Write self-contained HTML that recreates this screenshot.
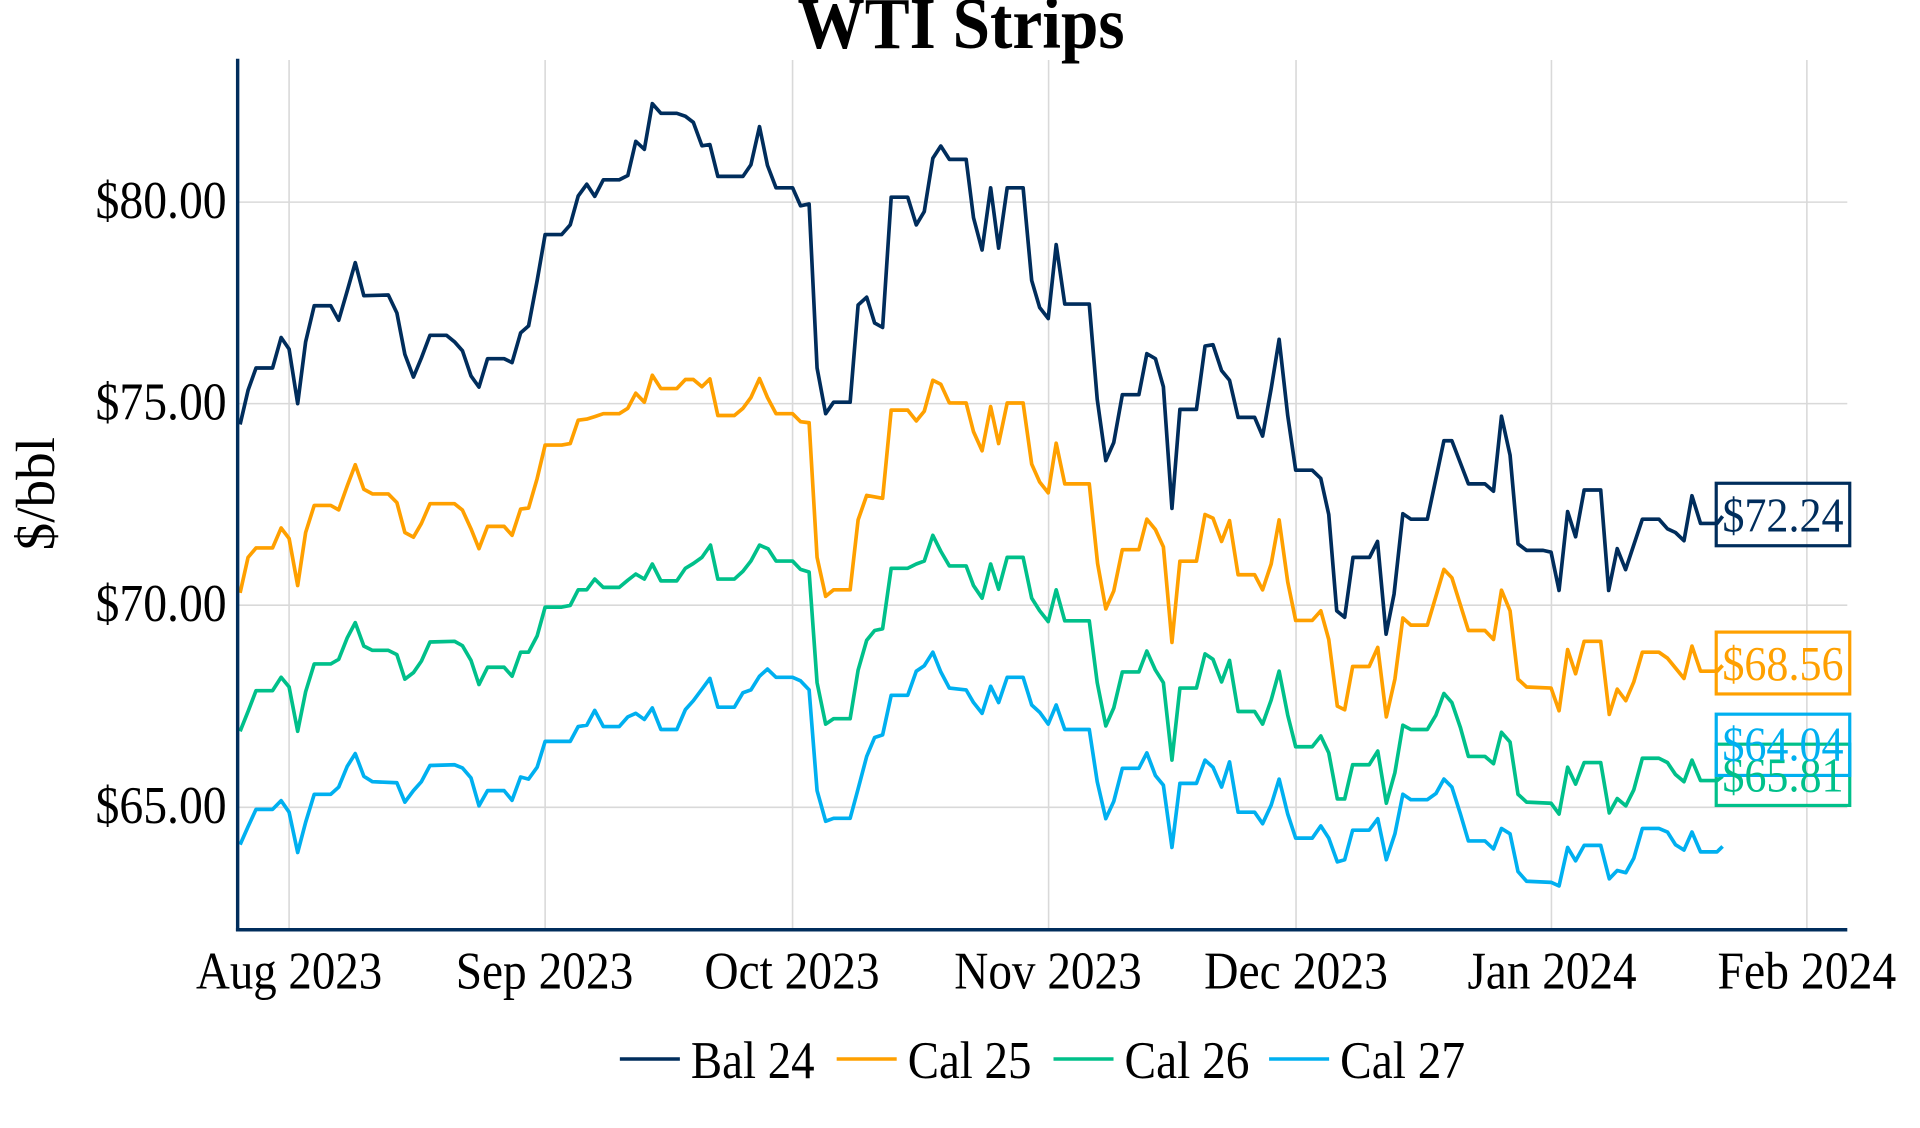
<!DOCTYPE html>
<html><head><meta charset="utf-8"><style>
html,body{margin:0;padding:0;background:#fff;}
svg{display:block;}
text{font-family:"Liberation Serif",serif;}
</style></head><body>
<svg width="1920" height="1128" viewBox="0 0 1567.35 920.82" xmlns="http://www.w3.org/2000/svg">
<rect width="1567.35" height="920.82" fill="#fff"/>
<g stroke="#d9d9d9" stroke-width="1.3">
<line x1="194" y1="165" x2="1508" y2="165"/>
<line x1="194" y1="329.5" x2="1508" y2="329.5"/>
<line x1="194" y1="494" x2="1508" y2="494"/>
<line x1="194" y1="659" x2="1508" y2="659"/>
<line x1="236" y1="49" x2="236" y2="759"/>
<line x1="445" y1="49" x2="445" y2="759"/>
<line x1="647" y1="49" x2="647" y2="759"/>
<line x1="856" y1="49" x2="856" y2="759"/>
<line x1="1058" y1="49" x2="1058" y2="759"/>
<line x1="1266.5" y1="49" x2="1266.5" y2="759"/>
<line x1="1475" y1="49" x2="1475" y2="759"/>
</g>
<g fill="none" stroke-width="3" stroke-linejoin="round">
<polyline stroke="#00b0f0" points="196,689.5 202.5,674.8 209,660.7 222.5,660.7 229.5,653.6 236,663 243,695.9 249.5,671.3 256.5,648.4 270,648.4 276.5,642.5 283.5,625.5 290,615.2 297,633.7 304,638.1 324,639 330.5,654.8 337.5,645.4 344,638.1 351,624.9 371,624.3 377.5,626.9 384.5,635.1 391,657.8 398,645.4 411.5,645.4 418,653.3 425,634.3 431.5,636 438.5,626.3 445,605.2 465.5,605.2 472,593.1 479,592 485.5,579.9 492.5,593.1 505.5,593.1 512.5,585.2 519,582.3 526,587.3 532.5,577.9 539.5,595.5 552.5,595.5 559.5,579.3 566,572 573,562.6 579.5,553.8 586,577.3 599.5,577.3 606.5,565.5 613,563.2 620,552 626.5,546.2 633.5,552.9 647,552.9 653.5,555.8 660.5,563.2 667,645.4 674,670.4 680.5,668 694,668 700.5,644 707.5,617.5 714,602 720.5,599.9 727.5,567.6 741,567.6 748,547.9 754.5,543.5 761.5,532.4 768,548.5 775,561.7 788.7,563.2 794.7,573.5 801.7,582.3 808.7,560.2 815.2,573.5 822.2,552.9 835.2,552.9 842.2,575.5 848.7,581.4 855.7,591.1 862.2,575.5 869.2,595.5 889.2,595.5 895.7,638.1 902.7,668.3 909.2,654.2 916.2,627.2 929.7,627.2 936.2,614.6 943.2,633.1 949.7,641 956.7,691.8 963.2,639.5 976.7,639.5 983.7,620.5 990.2,626.3 997.2,642.5 1003.7,621.9 1010.7,663 1024.2,663 1030.7,672.4 1037.7,657.2 1044.2,636 1051.2,664.5 1057.7,684.2 1071.2,684.2 1078.2,674.2 1084.7,684.2 1091.7,703.6 1097.7,701.8 1104.2,677.7 1117.7,677.7 1124.7,668.3 1131.7,701.8 1138.7,680.7 1145.2,648.4 1151.7,652.8 1165.2,652.8 1172.2,647.8 1178.7,636 1185.2,642.5 1192.2,664.5 1198.7,686.5 1212.2,686.5 1219.2,693 1225.7,676.3 1232.7,680.7 1239.2,711.5 1246.2,719.4 1266.2,720.3 1272.7,723.2 1279.7,691.8 1286.2,702.7 1293.2,690.1 1306.7,690.1 1313.7,717.4 1320.2,710.6 1327.2,712.4 1333.7,700.6 1340.7,676.3 1354.2,676.3 1361.2,679.2 1367.7,689.5 1374.7,693.9 1381.2,679.2 1388.2,695.4 1401.7,695.4 1406.2,691"/>
<polyline stroke="#00c08a" points="196,597 202.5,580.8 209,563.8 222.5,563.8 229.5,552.9 236,560.8 243,597 249.5,564.7 256.5,542 270,542 276.5,538.2 283.5,520.6 290,508.3 297,527.4 304,530.9 317,530.9 324,534.4 330.5,554.4 337.5,549.1 344,539.7 351,524.1 371,523.5 377.5,527.1 384.5,539.1 391,558.8 398,544.7 411.5,544.7 418,552 425,532.4 431.5,532.4 438.5,519.1 445,495.6 458.5,495.6 465.5,494.2 472,481.5 479,481.5 485.5,472.7 492.5,479.5 505.5,479.5 512.5,473.6 519,468.6 526,472.7 532.5,460.4 539.5,474.2 552.5,474.2 559.5,463.9 566,460 573,455 580,445 586,472.7 599.5,472.7 606.5,466.3 613,458 620,445 627,448 633.5,458 647,458 653.5,464.8 660.5,466.9 667,557.3 674,591.1 680.5,586.7 694,586.7 700.5,547 707.5,522.7 714,514.7 720.5,513.3 727.5,463.9 741,463.9 748,460.4 754.5,458 761.5,437 768,450 775,462 788.7,462 794.7,478 801.7,488.3 808.7,460.4 815.2,481 822.2,455 835.2,455 842.2,488.3 848.7,498.6 855.7,507.4 862.2,481.5 869.2,506.8 889.2,506.8 895.7,557.3 902.7,592.6 909.2,577.9 916.2,548.5 929.7,548.5 936.2,531.5 943.2,547 949.7,557.3 956.7,620.5 963.2,561.7 976.7,561.7 983.7,533.8 990.2,538.2 997.2,556.7 1003.7,539.1 1010.7,580.8 1024.2,580.8 1030.7,591.1 1037.7,571.4 1044.2,547.9 1051.2,583.7 1057.7,609.6 1071.2,609.6 1078.2,600.8 1084.7,614.6 1091.7,652.2 1097.7,652.2 1104.2,624.3 1117.7,624.3 1124.7,613.1 1131.7,655.7 1138.7,630.7 1145.2,592 1151.7,595.5 1165.2,595.5 1172.2,583.7 1178.7,566.1 1185.2,573.5 1192.2,594 1198.7,617.5 1212.2,617.5 1219.2,623.4 1225.7,597.8 1232.7,605.8 1239.2,648.4 1246.2,654.8 1266.2,655.7 1272.7,664.5 1279.7,626.3 1286.2,640.1 1293.2,622.5 1306.7,622.5 1313.7,663.6 1320.2,651.9 1327.2,657.8 1333.7,644.8 1340.7,619 1354.2,619 1361.2,622.5 1367.7,632.2 1374.7,638.1 1381.2,620.5 1388.2,637.2 1401.7,637.2 1406.2,633.7"/>
<polyline stroke="#ffa000" points="196,484 202.5,455 209,447.3 222.5,447.3 229.5,431 236,439.6 243,478 249.5,434.7 256.5,412.6 270,412.6 276.5,416.2 283.5,396.5 290,379.4 297,399.4 304,403.2 317,403.2 324,410.3 330.5,434.7 337.5,438.5 344,427.3 351,411.2 371,411.2 377.5,416.4 384.5,431.7 391,447.9 398,429.7 411.5,429.7 418,437 425,415.6 431.5,414.7 438.5,390.6 445,363.3 458.5,363.3 465.5,362.1 472,343 479,342.1 485.5,340.1 492.5,337.7 505.5,337.7 512.5,333.3 519,321 526,328.3 532.5,306.3 539.5,317.2 552.5,317.2 559.5,309.8 566,309.8 573,315.7 579.5,309.3 586,339.2 599.5,339.2 606.5,333.3 613,324.5 620,309 626.5,324.5 633.5,337.7 647,337.7 653.5,344.2 660.5,345.1 667,455 674,486.8 680.5,481.5 694,481.5 700.5,424.4 707.5,404.4 720.5,406.8 727.5,334.8 741,334.8 748,343.6 754.5,335.7 761.5,310.4 768,313.7 775,328.9 788.7,329 794.7,352.4 801.7,368 808.7,331.9 815.2,362.1 822.2,329 835.2,329 842.2,378.9 848.7,393.5 855.7,402.3 862.2,361.8 869.2,395 889.2,395 896,460 902.7,497.1 909.2,482.4 916.2,448.7 929.7,448.7 936.2,423.8 943.2,432.3 949.7,446.4 956.7,524.4 963.2,458.1 976.7,458.1 983.7,420 990.2,423 997.2,442 1003.7,425 1010.7,469.2 1024.2,469.2 1030.7,481.5 1037.7,460.4 1044.2,424.4 1051.2,475 1057.7,506.5 1071.2,506.5 1078.2,498.6 1084.7,522 1091.7,576.4 1097.7,579.4 1104.2,544.1 1117.7,544.1 1124.7,528.5 1131.7,585.2 1138.7,554.4 1145.2,504.5 1151.7,510.3 1165.2,510.3 1178.7,464.8 1185.2,471.6 1198.7,514.7 1212.2,514.7 1219.2,522 1225.7,481.8 1232.7,498.6 1239.2,554.4 1246.2,560.8 1266.2,561.7 1272.7,580.2 1279.7,530.3 1286.2,550 1293.2,523.5 1306.7,523.5 1313.7,583.2 1320.2,562.6 1327.2,572 1333.7,556.7 1340.7,532.4 1354.2,532.4 1361.2,537.3 1374.7,553.8 1381.2,527.4 1388.2,547.9 1401.7,547.9 1406.2,543.2"/>
<polyline stroke="#002d5c" points="196,346.5 202.5,318.6 209,300.4 222.5,300.4 229.5,275.5 236,285 243,329.5 249.5,279 256.5,249.6 270,249.6 276.5,261.4 283.5,237.3 290,214.4 297,241.4 317,240.8 324,255.5 330.5,289.3 337.5,307.8 344,292.2 351,273.7 364.5,273.7 371,279 377.5,286.3 384.5,306.9 391,316 398,292.8 411.5,292.8 418,296 425,271.7 431.5,266 438.5,229 445,191.5 458.5,191.5 465.5,183.5 472,160 479,150.4 485.5,160.3 492.5,146.8 505.5,146.8 512.5,143.3 519,115.4 526,121.9 532.5,84.6 539.5,92.5 552.5,92.5 559.5,94.9 566,99.9 573,119 579.5,118 586,144 606.5,144 613,134.5 620,103.4 626.5,135 633.5,153.3 647,153.3 653.5,168 660.5,166.5 667,300.4 674,337.7 680.5,328.3 694,328.3 700.5,249 707.5,242.6 714,263.7 720.5,267.3 727.5,161 741,161 748,183.6 754.5,172.7 761.5,129.2 768,119.2 775,130.1 788.7,130.1 794.7,177.7 801.7,204.1 808.7,153.3 815.2,202.6 822.2,153.3 835.2,153.3 842.2,229 848.7,251 855.7,260 862.2,199.7 869.2,248.2 889.2,248.2 895.7,326 902.7,376 909.2,361.2 916.2,322.2 929.7,322.2 936.2,288.7 943.2,292.8 949.7,315.7 956.7,415 963.2,334.2 976.7,334.2 983.7,282.5 990.2,281.4 997.2,302.5 1003.7,310.4 1010.7,340.7 1024.2,340.7 1030.7,356 1037.7,317.2 1044.2,277 1051.2,339.2 1057.7,383.8 1071.2,383.8 1078.2,390.6 1084.7,420 1091.2,498.6 1097.7,503.9 1104.5,455 1118,455 1124.5,442 1131.5,517.7 1138,485 1145.2,419.4 1151.7,423.8 1165.2,423.8 1178.7,359.8 1185.2,359.8 1198.7,395 1212.2,395 1219.2,401 1225.7,339.8 1232.7,371.5 1239.2,444 1246.2,449.3 1259.7,449.3 1266.2,450.8 1272.7,482 1279.7,417.6 1286.2,438.2 1293.2,400 1306.7,400 1313.2,482 1320.2,447.9 1327,465 1340.7,423.8 1354.2,423.8 1361.2,431.7 1367.7,434.7 1374.7,441.4 1381.2,404.7 1388.2,427.3 1401.7,427.3 1406.2,421.4"/>
</g>
<g stroke="#002d5c" stroke-width="2.8">
<line x1="194" y1="48" x2="194" y2="760"/>
<line x1="192.6" y1="759" x2="1508" y2="759"/>
</g>
<g fill="none" stroke-width="2.6">
<rect x="1401" y="394.5" width="109" height="51" stroke="#002d5c"/>
<rect x="1401" y="516" width="109" height="50.5" stroke="#ffa000"/>
<rect x="1401" y="607.5" width="109" height="50" stroke="#00c08a"/>
<rect x="1401" y="583" width="109" height="50" stroke="#00b0f0"/>
</g>
<g font-size="40">
<text x="1406" y="434" textLength="99" lengthAdjust="spacingAndGlyphs" fill="#002d5c">$72.24</text>
<text x="1406" y="555" textLength="99" lengthAdjust="spacingAndGlyphs" fill="#ffa000">$68.56</text>
<text x="1406" y="646" textLength="99" lengthAdjust="spacingAndGlyphs" fill="#00c08a">$65.81</text>
<text x="1406" y="621" textLength="99" lengthAdjust="spacingAndGlyphs" fill="#00b0f0">$64.04</text>
</g>
<text x="651" y="39" textLength="267" lengthAdjust="spacingAndGlyphs" font-size="60" font-weight="bold" fill="#000">WTI Strips</text>
<g font-size="43" fill="#000">
<text x="78" y="178" textLength="107" lengthAdjust="spacingAndGlyphs">$80.00</text>
<text x="78" y="342.5" textLength="107" lengthAdjust="spacingAndGlyphs">$75.00</text>
<text x="78" y="507" textLength="107" lengthAdjust="spacingAndGlyphs">$70.00</text>
<text x="78" y="672" textLength="107" lengthAdjust="spacingAndGlyphs">$65.00</text>
</g>
<g font-size="43" fill="#000">
<text x="160" y="807" textLength="152" lengthAdjust="spacingAndGlyphs">Aug 2023</text>
<text x="372" y="807" textLength="145" lengthAdjust="spacingAndGlyphs">Sep 2023</text>
<text x="575" y="807" textLength="143" lengthAdjust="spacingAndGlyphs">Oct 2023</text>
<text x="779" y="807" textLength="153" lengthAdjust="spacingAndGlyphs">Nov 2023</text>
<text x="983" y="807" textLength="150" lengthAdjust="spacingAndGlyphs">Dec 2023</text>
<text x="1198" y="807" textLength="138" lengthAdjust="spacingAndGlyphs">Jan 2024</text>
<text x="1402" y="807" textLength="146" lengthAdjust="spacingAndGlyphs">Feb 2024</text>
</g>
<text transform="translate(44,403) rotate(-90)" font-size="45" text-anchor="middle" fill="#000">$/bbl</text>
<g stroke-width="2.8">
<line x1="506" y1="864.5" x2="555" y2="864.5" stroke="#002d5c"/>
<line x1="683" y1="864.5" x2="732" y2="864.5" stroke="#ffa000"/>
<line x1="860" y1="864.5" x2="909" y2="864.5" stroke="#00c08a"/>
<line x1="1036" y1="864.5" x2="1085" y2="864.5" stroke="#00b0f0"/>
</g>
<g font-size="43" fill="#000">
<text x="564" y="880" textLength="101" lengthAdjust="spacingAndGlyphs">Bal 24</text>
<text x="741" y="880" textLength="101" lengthAdjust="spacingAndGlyphs">Cal 25</text>
<text x="918" y="880" textLength="102" lengthAdjust="spacingAndGlyphs">Cal 26</text>
<text x="1094" y="880" textLength="102" lengthAdjust="spacingAndGlyphs">Cal 27</text>
</g>
</svg>
</body></html>
